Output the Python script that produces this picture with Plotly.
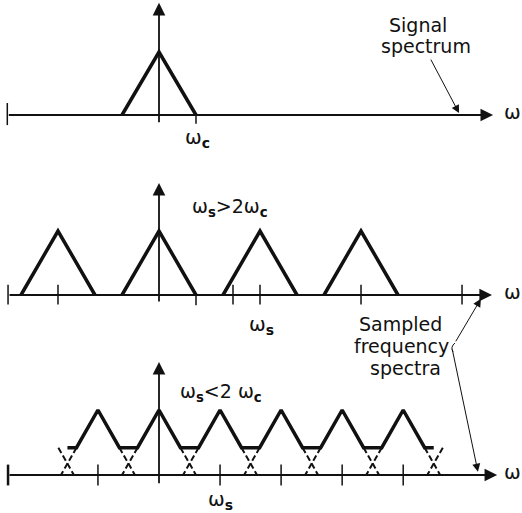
import plotly.graph_objects as go

# ---------------- data (ω in units of ωc, amplitude normalised to 1) ----------------
wc = 1.0                          # signal bandwidth ωc
peak = 1.0                        # spectrum peak value
ws_ok = 2.73                      # sampling frequency, ωs > 2ωc (middle panel)
ws_alias = 1.65                   # sampling frequency, ωs < 2ωc (bottom panel)
alias_level = 0.42                # level of the overlapped (aliased) sum
k_ok = [-1, 0, 1, 2]              # spectral replicas drawn, middle panel
k_alias = [-1, 0, 1, 2, 3, 4]     # spectral replicas drawn, bottom panel
axis_start = [-4.1, -4.08, -4.08] # left end of each ω axis
axis_end = [9.03, 9.0, 9.14]      # arrow tip of each ω axis
vaxis_bottom = [-0.14, -0.125, -0.15]
vaxis_top = [1.78, 1.75, 1.74]
ticks_p2_k = [-1, 1, 2, 3]        # ticks at multiples of ωs (middle panel)
ticks_p2_extra = [2.0]            # extra tick (middle panel)
ticks_p3_k = [-1, 1, 2, 3, 4]     # ticks at multiples of ωs (bottom panel)

# ---------------- layout constants (pixels) ----------------
W, HGT = 522, 513
X0_PX, PX_PER_UNIT = 159, 37
BASE_PX = [115, 295, 475]
AMP_PX = [63, 64, 65]
DOM_PX = [(0, 171), (171, 342), (342, 513)]
YREF = ["y", "y2", "y3"]
INK = "#111111"
FONT = "DejaVu Sans"
S = "<sub><b>s</b></sub>"
C = "<sub><b>c</b></sub>"

fig = go.Figure()


def line(xs, ys, panel, width=2.0, dash=None):
    fig.add_trace(go.Scatter(
        x=xs, y=ys, mode="lines", yaxis=YREF[panel], hoverinfo="skip",
        line=dict(color=INK, width=width, dash=dash), showlegend=False))


def segs(pairs):
    xs, ys = [], []
    for (x0, y0), (x1, y1) in pairs:
        xs += [x0, x1, None]
        ys += [y0, y1, None]
    return xs, ys


def triangle_set(centers):
    xs, ys = [], []
    for c in centers:
        xs += [c - wc, c, c + wc, None]
        ys += [0, peak, 0, None]
    return xs, ys


# ---- axes (horizontal with arrow, vertical with arrow) ----
annotations = []
for p in range(3):
    annotations.append(dict(
        x=axis_end[p], y=0, ax=axis_start[p], ay=0, xref="x", yref=YREF[p],
        axref="x", ayref=YREF[p], showarrow=True, arrowhead=2, arrowsize=1.4,
        arrowwidth=1.8, arrowcolor=INK, text=""))
    annotations.append(dict(
        x=0, y=vaxis_top[p], ax=0, ay=vaxis_bottom[p], xref="x", yref=YREF[p],
        axref="x", ayref=YREF[p], showarrow=True, arrowhead=2, arrowsize=1.4,
        arrowwidth=1.8, arrowcolor=INK, text=""))
    # ω label at axis end
    annotations.append(dict(x=9.55, y=0, xref="x", yref=YREF[p], text="ω",
                            showarrow=False, font=dict(family=FONT, size=20, color=INK),
                            xanchor="center", yanchor="middle", yshift=3))

# ---- panel 1 : signal spectrum ----
tx, ty = triangle_set([0.0])
line(tx, ty, 0, width=3.5)
xs, ys = segs([((axis_start[0], 0.19), (axis_start[0], -0.16)),
               ((wc, 0), (wc, -0.14))])
line(xs, ys, 0, width=1.5)

# ---- panel 2 : ωs > 2ωc ----
c2 = [k * ws_ok for k in k_ok]
tx, ty = triangle_set(c2)
line(tx, ty, 1, width=3.5)
tick_x = [axis_start[1]] + [k * ws_ok for k in ticks_p2_k] + ticks_p2_extra
pairs = [((t, 0.16), (t, -0.15)) for t in tick_x]
pairs.append(((wc, 0), (wc, -0.16)))
xs, ys = segs(pairs)
line(xs, ys, 1, width=1.5)

# ---- panel 3 : ωs < 2ωc (aliasing) ----
c3 = [k * ws_alias for k in k_alias]
d = wc * (1 - alias_level / peak)
ex = [c3[0] - ws_alias / 2]
ey = [alias_level]
for c in c3:
    ex += [c - d, c, c + d]
    ey += [alias_level, peak, alias_level]
ex.append(c3[-1] + ws_alias / 2)
ey.append(alias_level)
line(ex, ey, 2, width=3.5)

ghost_left = (k_alias[0] - 1) * ws_alias
ghost_right = (k_alias[-1] + 1) * ws_alias
dpairs = [((c + d, alias_level), (c + wc, 0)) for c in [ghost_left] + c3]
dpairs += [((c - d, alias_level), (c - wc, 0)) for c in c3 + [ghost_right]]
xs, ys = segs(dpairs)
line(xs, ys, 2, width=2.0, dash="6px,3px")

tick_x = [k * ws_alias for k in ticks_p3_k]
xs, ys = segs([((t, 0.16), (t, -0.16)) for t in tick_x])
line(xs, ys, 2, width=1.5)
xs, ys = segs([((axis_start[2], 0.16), (axis_start[2], -0.16))])
line(xs, ys, 2, width=2.5)

# ---- text labels ----
def label(x, y, panel, text, size=20):
    annotations.append(dict(x=x, y=y, xref="x", yref=YREF[panel], text=text,
                            showarrow=False, xanchor="center", yanchor="middle",
                            font=dict(family=FONT, size=size, color=INK)))


label(wc + 0.05, -0.37, 0, "ω" + C)
label(1.92, 1.36, 1, "ω" + S + "&gt;2ω" + C, size=19)
label(ws_ok + 0.05, -0.47, 1, "ω" + S)
label(1.68, 1.27, 2, "ω" + S + "&lt;2 ω" + C, size=19)
label(ws_alias, -0.38, 2, "ω" + S)


def paper_text(xp, yp, text, size=20):
    annotations.append(dict(x=xp / W, y=1 - yp / HGT, xref="paper", yref="paper",
                            text=text, showarrow=False, xanchor="center",
                            yanchor="middle",
                            font=dict(family=FONT, size=size, color=INK)))


paper_text(418, 25, "Signal", size=19)
paper_text(426, 46, "spectrum", size=19)
paper_text(400, 324, "Sampled", size=19)
paper_text(401, 346, "frequency", size=19)
paper_text(405, 368, "spectra", size=19)

# ---- pointer arrows ----
def pointer(x, y, panel, ax, ay):
    annotations.append(dict(x=x, y=y, xref="x", yref=YREF[panel], ax=ax, ay=ay,
                            showarrow=True, arrowhead=2, arrowsize=1.6,
                            arrowwidth=1.0, arrowcolor=INK, text=""))


pointer(8.11, 0.03, 0, -29, -55)
pointer(8.70, -0.06, 1, -26, 44)
pointer(8.62, 0.05, 2, -26, -124)

layout_axes = {}
for p in range(3):
    top, bot = DOM_PX[p]
    base, h = BASE_PX[p], AMP_PX[p]
    key = "yaxis" if p == 0 else f"yaxis{p + 1}"
    layout_axes[key] = dict(domain=[1 - bot / HGT, 1 - top / HGT],
                            range=[(base - bot) / h, (base - top) / h],
                            visible=False, fixedrange=True, anchor="x")

fig.update_layout(
    width=W, height=HGT, margin=dict(l=0, r=0, t=0, b=0),
    paper_bgcolor="white", plot_bgcolor="white", showlegend=False,
    xaxis=dict(range=[-X0_PX / PX_PER_UNIT, (W - X0_PX) / PX_PER_UNIT],
               visible=False, fixedrange=True),
    annotations=annotations,
    shapes=[dict(type="path", xref="paper", yref="paper",
                 path=f"M {455 / W} {1 - 343 / HGT} Q {450 / W} {1 - 347 / HGT} {453 / W} {1 - 352 / HGT}",
                 line=dict(color=INK, width=1))],
    **layout_axes,
)

fig.write_html("out.html")
